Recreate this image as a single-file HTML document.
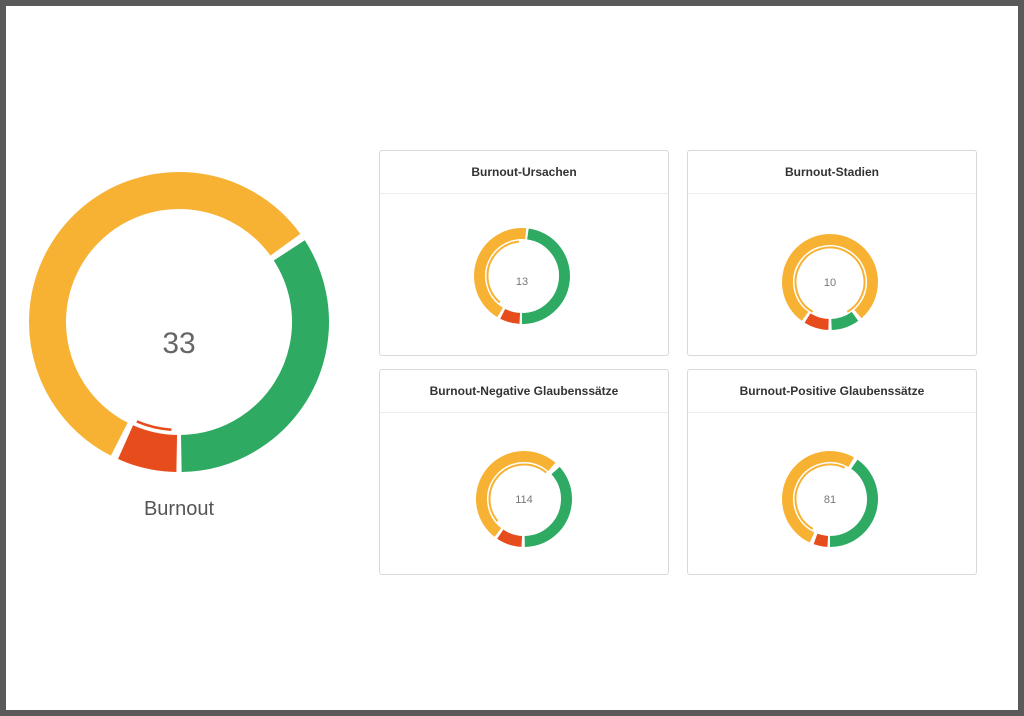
<!DOCTYPE html>
<html><head><meta charset="utf-8"><style>
html,body{margin:0;padding:0;}
body{width:1024px;height:716px;background:#5a5a5a;position:relative;overflow:hidden;font-family:"Liberation Sans",sans-serif;}
.page{position:absolute;left:6px;top:6px;width:1012px;height:704px;background:#fff;}
.card{position:absolute;width:290px;height:206px;border:1px solid #d9d9d9;border-radius:3px;background:#fff;box-sizing:border-box;}
.card .h{height:42px;border-bottom:1px solid #eee;text-align:center;line-height:42px;font-size:12px;font-weight:bold;color:#333;}
svg{position:absolute;left:0;top:0;}
</style></head><body>
<div class="page"></div>
<div class="card" style="left:379px;top:150px"><div class="h">Burnout-Ursachen</div></div>
<div class="card" style="left:687px;top:150px"><div class="h">Burnout-Stadien</div></div>
<div class="card" style="left:379px;top:369px"><div class="h">Burnout-Negative Glaubenssätze</div></div>
<div class="card" style="left:687px;top:369px"><div class="h">Burnout-Positive Glaubenssätze</div></div>
<svg width="1024" height="716" viewBox="0 0 1024 716" fill="none">
<g>
<circle cx="179" cy="322" r="131.5" stroke="#2EAA63" stroke-width="37" pathLength="360" stroke-dasharray="122 999" transform="rotate(-33 179 322)"/>
<circle cx="179" cy="322" r="131.5" stroke="#E64C1C" stroke-width="37" pathLength="360" stroke-dasharray="23 999" transform="rotate(91 179 322)"/>
<circle cx="179" cy="322" r="131.5" stroke="#F7B234" stroke-width="37" pathLength="360" stroke-dasharray="207 999" transform="rotate(117 179 322)"/>
<circle cx="179" cy="322" r="108" stroke="#E64C1C" stroke-width="2.5" pathLength="360" stroke-dasharray="19 999" transform="rotate(94 179 322)"/>
<text x="179" y="353" text-anchor="middle" font-size="30" fill="#666" font-family="Liberation Sans, sans-serif">33</text>
<text x="179" y="515" text-anchor="middle" font-size="20" fill="#555" font-family="Liberation Sans, sans-serif">Burnout</text>
</g>
<g>
<circle cx="522" cy="276" r="42.5" stroke="#2EAA63" stroke-width="11" pathLength="360" stroke-dasharray="172 999" transform="rotate(-82 522 276)"/>
<circle cx="522" cy="276" r="42.5" stroke="#E64C1C" stroke-width="11" pathLength="360" stroke-dasharray="24 999" transform="rotate(93 522 276)"/>
<circle cx="522" cy="276" r="42.5" stroke="#F7B234" stroke-width="11" pathLength="360" stroke-dasharray="154 999" transform="rotate(121 522 276)"/>
<circle cx="522" cy="276" r="34.5" stroke="#F7B234" stroke-width="2" pathLength="360" stroke-dasharray="135 999" transform="rotate(130 522 276)"/>
<text x="522" y="285" text-anchor="middle" font-size="11" fill="#777">13</text>
</g>
<g>
<circle cx="830" cy="282" r="42.5" stroke="#2EAA63" stroke-width="11" pathLength="360" stroke-dasharray="34 999" transform="rotate(54 830 282)"/>
<circle cx="830" cy="282" r="42.5" stroke="#E64C1C" stroke-width="11" pathLength="360" stroke-dasharray="30 999" transform="rotate(92 830 282)"/>
<circle cx="830" cy="282" r="42.5" stroke="#F7B234" stroke-width="11" pathLength="360" stroke-dasharray="283 999" transform="rotate(126 830 282)"/>
<circle cx="830" cy="282" r="34.5" stroke="#F7B234" stroke-width="2" pathLength="360" stroke-dasharray="300 999" transform="rotate(120 830 282)"/>
<text x="830" y="286" text-anchor="middle" font-size="11" fill="#777">10</text>
</g>
<g>
<circle cx="524" cy="499" r="42.5" stroke="#2EAA63" stroke-width="11" pathLength="360" stroke-dasharray="131 999" transform="rotate(-42 524 499)"/>
<circle cx="524" cy="499" r="42.5" stroke="#E64C1C" stroke-width="11" pathLength="360" stroke-dasharray="31 999" transform="rotate(93 524 499)"/>
<circle cx="524" cy="499" r="42.5" stroke="#F7B234" stroke-width="11" pathLength="360" stroke-dasharray="183 999" transform="rotate(128 524 499)"/>
<circle cx="524" cy="499" r="34.5" stroke="#F7B234" stroke-width="2" pathLength="360" stroke-dasharray="170 999" transform="rotate(140 524 499)"/>
<text x="524" y="503" text-anchor="middle" font-size="11" fill="#777">114</text>
</g>
<g>
<circle cx="830" cy="499" r="42.5" stroke="#2EAA63" stroke-width="11" pathLength="360" stroke-dasharray="145 999" transform="rotate(-55 830 499)"/>
<circle cx="830" cy="499" r="42.5" stroke="#E64C1C" stroke-width="11" pathLength="360" stroke-dasharray="17 999" transform="rotate(93 830 499)"/>
<circle cx="830" cy="499" r="42.5" stroke="#F7B234" stroke-width="11" pathLength="360" stroke-dasharray="185 999" transform="rotate(115 830 499)"/>
<circle cx="830" cy="499" r="34.5" stroke="#F7B234" stroke-width="2" pathLength="360" stroke-dasharray="175 999" transform="rotate(120 830 499)"/>
<text x="830" y="503" text-anchor="middle" font-size="11" fill="#777">81</text>
</g>
</svg>
</body></html>
